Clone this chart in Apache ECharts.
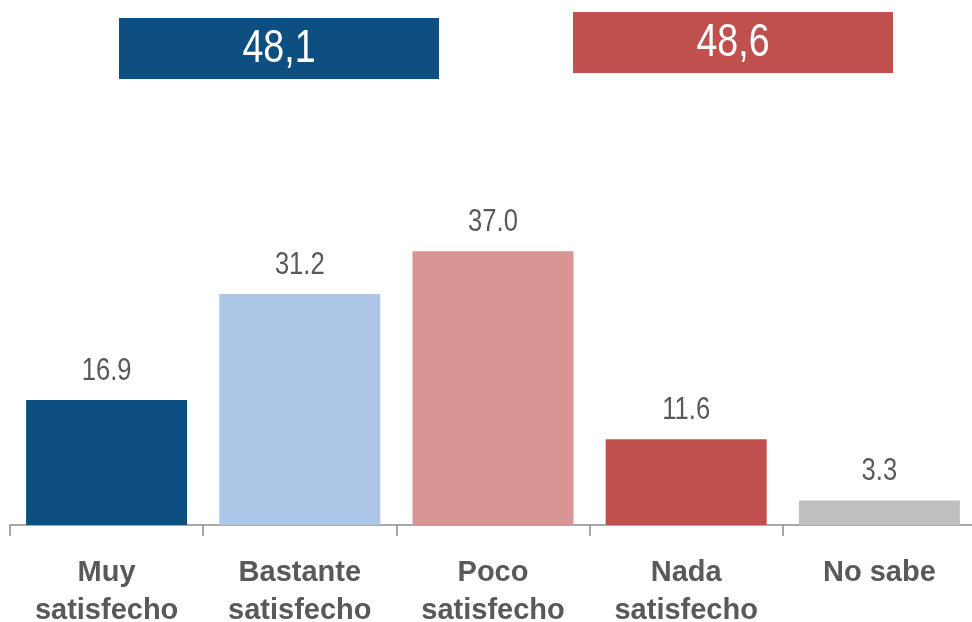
<!DOCTYPE html>
<html lang="es">
<head>
    <meta charset="UTF-8">
    <title>Satisfacción</title>
    <style>
        html, body { margin: 0; padding: 0; background: #fff; }
    </style>
</head>
<body>
    <div id="main" style="width: 972px;height:622px;"></div>
    <script src="https://cdn.jsdelivr.net/npm/echarts@6/dist/echarts.min.js"></script>
    <script>
// datos
var categories = ['Muy\nsatisfecho', 'Bastante\nsatisfecho', 'Poco\nsatisfecho', 'Nada\nsatisfecho', 'No sabe'];
var values = [16.9, 31.2, 37.0, 11.6, 3.3];
var barColors = ['#0E4F81', '#ADC6E7', '#D99594', '#C0504D', '#BFBFBF'];
var summaryLabels = ['48,1', '48,6'];
var summaryColors = ['#0E4F81', '#C0504D'];

var font = "'Liberation Sans', Arial, sans-serif";
var narrowX = 0.8; // no hay Arial Narrow: se estrecha la fuente normal

// cajas de resumen arriba (satisfecho / no satisfecho)
var boxes = [
    {x: 119, y: 18, w: 320, h: 61},
    {x: 573, y: 12, w: 320, h: 61}
];
var graphics = [];
boxes.forEach(function (b, i) {
    graphics.push({
        type: 'rect',
        left: b.x, top: b.y,
        shape: {width: b.w, height: b.h},
        style: {fill: summaryColors[i]}
    });
    graphics.push({
        type: 'text',
        x: b.x + b.w / 2,
        y: b.y + b.h / 2 + 1,
        scaleX: narrowX,
        style: {
            text: summaryLabels[i],
            fill: '#fff',
            font: '47px ' + font,
            align: 'center',
            verticalAlign: 'middle'
        }
    });
});

var option = {
    animation: false,
    grid: {
        left: 10,
        width: 966,
        top: 81,
        bottom: 97,
        containLabel: false,
        outerBoundsMode: 'none'
    },
    xAxis: {
        type: 'category',
        data: categories,
        axisLine: {
            lineStyle: {color: '#8C8C8C', width: 1.5}
        },
        axisTick: {
            show: true,
            length: 11,
            lineStyle: {color: '#8C8C8C', width: 1.5}
        },
        axisLabel: {
            margin: 29,
            color: '#595959',
            fontFamily: font,
            fontWeight: 'bold',
            fontSize: 29,
            lineHeight: 38,
            interval: 0
        }
    },
    yAxis: {
        type: 'value',
        min: 0,
        max: 60,
        show: false,
        splitLine: {show: false}
    },
    graphic: graphics,
    series: [
        {
            type: 'bar',
            barWidth: 161,
            data: values.map(function (v, i) {
                return {value: v, itemStyle: {color: barColors[i]}};
            })
        },
        {
            // etiquetas de valor encima de cada barra
            type: 'custom',
            data: values.map(function (v, i) { return [i, v]; }),
            renderItem: function (params, api) {
                var p = api.coord([api.value(0), api.value(1)]);
                return {
                    type: 'text',
                    x: p[0],
                    y: p[1] - 13,
                    scaleX: narrowX,
                    style: {
                        text: api.value(1).toFixed(1),
                        fill: '#595959',
                        font: '32px ' + font,
                        align: 'center',
                        verticalAlign: 'bottom'
                    }
                };
            }
        }
    ]
};

var myChart = echarts.init(document.getElementById('main'));
myChart.setOption(option);
    </script>
</body>
</html>
